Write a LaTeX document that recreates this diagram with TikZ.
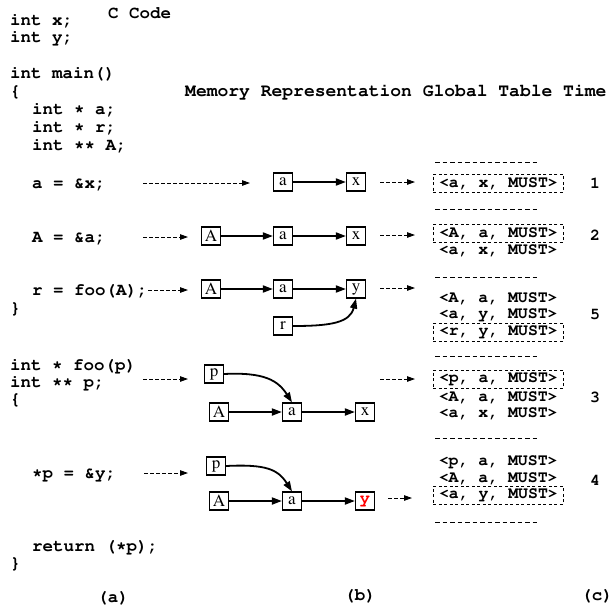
\documentclass[tikz,border=0pt]{standalone}
\usepackage[T1]{fontenc}
\usepackage{times}
\usepackage{courier}
\usetikzlibrary{arrows.meta}

\begin{document}
\begin{tikzpicture}[x=1pt, y=-1pt,
		code/.style={anchor=base west, inner sep=0pt, font=\ttfamily\bfseries\fontsize{17.5}{18}\selectfont},
		cell/.style={draw, line width=1.2pt, minimum width=19pt, minimum height=18pt, inner sep=0pt, font=\rmfamily\fontsize{17}{17}\selectfont},
		tuple/.style={anchor=west, minimum width=130pt, minimum height=18pt, inner sep=0pt, font=\ttfamily\bfseries\fontsize{16.5}{17}\selectfont},
		boxed/.style={draw, line width=0.9pt, dash pattern=on 3pt off 2.5pt},
		link/.style={-{Triangle[length=10pt,width=7pt]}, line width=1.8pt},
		hint/.style={-{Triangle[length=8pt,width=5.5pt]}, line width=0.9pt, dash pattern=on 3.5pt off 2.5pt},
		sep/.style={line width=0.9pt, dash pattern=on 4.5pt off 3pt}]
		
		\useasboundingbox (0,0) rectangle (612,608);
		
		% Titles
		\node[code] (ccode) at (108,18) {C Code};
		\node[code, font=\ttfamily\bfseries\fontsize{18}{18}\selectfont] (head) at (185,96) {Memory Representation Global Table Time};
		
		% C code
		\node[code] (l1) at (10,25) {int x;};
		\node[code] (l2) at (10,42) {int y;};
		\node[code] (l3) at (10,78) {int main()};
		\node[code] (l4) at (10,96) {\{};
		\node[code] (l5) at (32,114) {int * a;};
		\node[code] (l6) at (32,132) {int * r;};
		\node[code] (l7) at (32,150) {int ** A;};
		\node[code] (l8) at (32,188) {a = \&x;};
		\node[code] (l9) at (32,242) {A = \&a;};
		\node[code] (l10) at (32,295) {r = foo(A);};
		\node[code] (l11) at (10,313) {\}};
		\node[code] (l12) at (10,370) {int * foo(p)};
		\node[code] (l13) at (10,387) {int ** p;};
		\node[code] (l14) at (10,404) {\{};
		\node[code] (l15) at (32,478) {*p = \&y;};
		\node[code] (l16) at (32,551) {return (*p);};
		\node[code] (l17) at (10,568) {\}};
		
		% Sub captions
		\node[code, anchor=base] (capa) at (113,602) {(a)};
		\node[code, anchor=base] (capb) at (360,600) {(b)};
		\node[code, anchor=base] (capc) at (597,600) {(c)};
		
		% Code to memory
		\coordinate (s1) at (143,183); \coordinate (e1) at (250,183);
		\coordinate (s2) at (143,237); \coordinate (e2) at (188,237);
		\coordinate (s3) at (148,290); \coordinate (e3) at (188,290);
		\coordinate (s4) at (143,379); \coordinate (e4) at (188,379);
		\coordinate (s5) at (144,473); \coordinate (e5) at (188,473);
		\foreach \i in {1,...,5} {
			\draw[hint] (s\i) -- (e\i);
		}
		
		% Row 1: a = &x
		\node[cell] (a1) at (283,182) {a};
		\node[cell] (x1) at (356,182) {x};
		\draw[link] (a1) -- (x1);
		
		% Row 2: A = &a
		\node[cell] (A2) at (211,236) {A};
		\node[cell] (a2) at (283,236) {a};
		\node[cell] (x2) at (356,236) {x};
		\draw[link] (A2) -- (a2);
		\draw[link] (a2) -- (x2);
		
		% Row 3: r = foo(A)
		\node[cell] (A3) at (211,289) {A};
		\node[cell] (a3) at (283,289) {a};
		\node[cell] (y3) at (356,289) {y};
		\node[cell] (r3) at (283,326) {r};
		\draw[link] (A3) -- (a3);
		\draw[link] (a3) -- (y3);
		\draw[link] (r3.east) .. controls +(38,0) and +(-6,24) .. (y3.south);
		
		% Row 4: entering foo
		\node[cell] (p4) at (214,374) {p};
		\node[cell] (A4) at (219,412) {A};
		\node[cell] (a4) at (292,412) {a};
		\node[cell] (x4) at (365,412) {x};
		\draw[link] (A4) -- (a4);
		\draw[link] (a4) -- (x4);
		\draw[link] (p4.east) .. controls +(40,-2) and +(-14,-22) .. (a4.north);
		
		% Row 5: *p = &y
		\node[cell] (p5) at (216,466) {p};
		\node[cell] (A5) at (219,501) {A};
		\node[cell] (a5) at (292,501) {a};
		\node[cell, text=red, font=\ttfamily\bfseries\fontsize{17}{17}\selectfont] (y5) at (365,501) {y};
		\draw[link] (A5) -- (a5);
		\draw[link] (a5) -- (y5);
		\draw[link] (p5.east) .. controls +(40,-2) and +(-14,-22) .. (a5.north);
		
		% Memory to table
		\coordinate (u1) at (380,182); \coordinate (v1) at (415,182);
		\coordinate (u2) at (380,235); \coordinate (v2) at (415,235);
		\coordinate (u3) at (380,288); \coordinate (v3) at (415,288);
		\coordinate (u4) at (380,379); \coordinate (v4) at (415,379);
		\coordinate (u5) at (388,498); \coordinate (v5) at (412,498);
		\foreach \i in {1,...,5} {
			\draw[hint] (u\i) -- (v\i);
		}
		
		% Global table
		\foreach \yy in {162,209,277,356,438,522} {
			\draw[sep] (435,\yy) -- (538,\yy);
		}
		\node[tuple, boxed] (t11) at (433,183) {<a, x, MUST>};
		
		\node[tuple, boxed] (t21) at (433,233) {<A, a, MUST>};
		\node[tuple] (t22) at (433,250) {<a, x, MUST>};
		
		\node[tuple] (t31) at (433,298) {<A, a, MUST>};
		\node[tuple] (t32) at (433,315) {<a, y, MUST>};
		\node[tuple, boxed] (t33) at (433,332) {<r, y, MUST>};
		
		\node[tuple, boxed] (t41) at (433,379) {<p, a, MUST>};
		\node[tuple] (t42) at (433,397) {<A, a, MUST>};
		\node[tuple] (t43) at (433,413) {<a, x, MUST>};
		
		\node[tuple] (t51) at (433,462) {<p, a, MUST>};
		\node[tuple] (t52) at (433,478) {<A, a, MUST>};
		\node[tuple, boxed] (t53) at (433,495) {<a, y, MUST>};
		
		% Time
		\node[tuple, anchor=center, minimum width=0pt] (n1) at (595,183) {1};
		\node[tuple, anchor=center, minimum width=0pt] (n2) at (595,235) {2};
		\node[tuple, anchor=center, minimum width=0pt] (n5) at (595,315) {5};
		\node[tuple, anchor=center, minimum width=0pt] (n3) at (595,397) {3};
		\node[tuple, anchor=center, minimum width=0pt] (n4) at (595,480) {4};
		
	\end{tikzpicture}
\end{document}
